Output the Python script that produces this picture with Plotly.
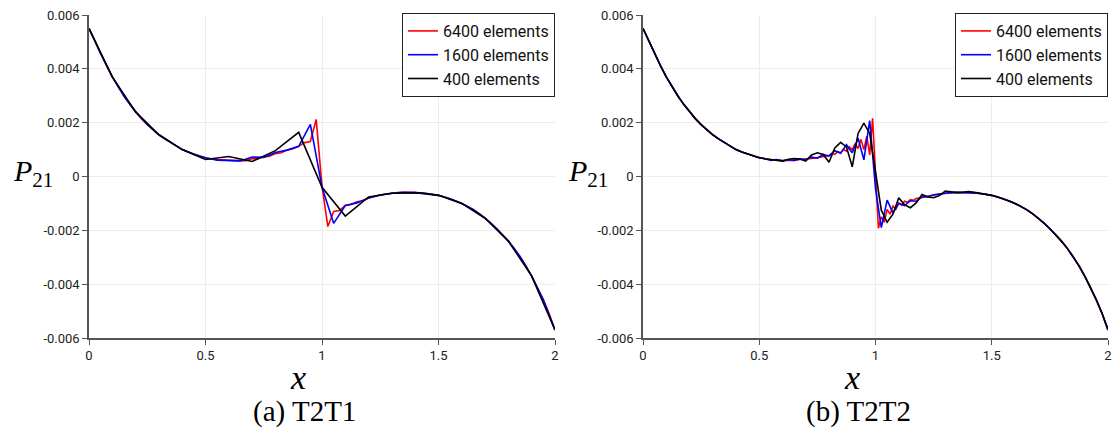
import plotly.graph_objects as go

# ---------------- data: T2T1 (left panel) ----------------
# 400 elements, nodes every 0.1
T2T1_400_X0, T2T1_400_DX = 0.0, 0.1
T2T1_400_Y = [0.00550, 0.00370, 0.00240, 0.00155, 0.00100, 0.00063, 0.00074, 0.00056, 0.00096, 0.00164,
              -0.00040, -0.00147, -0.00076, -0.00062, -0.00060, -0.00070, -0.00100, -0.00155, -0.00240,
              -0.00370, -0.00570]

# 1600 elements, nodes every 0.05
T2T1_1600_X0, T2T1_1600_DX = 0.0, 0.05
T2T1_1600_Y = [0.00550, 0.00456, 0.00370, 0.00299, 0.00240, 0.00193, 0.00155, 0.00126, 0.00100, 0.00083,
               0.00070, 0.00061, 0.00059, 0.00058, 0.00072, 0.00071, 0.00089, 0.00098, 0.00112, 0.00194,
               -0.00040, -0.00174, -0.00108, -0.00098, -0.00080, -0.00069, -0.00062, -0.00059, -0.00060,
               -0.00063, -0.00070, -0.00083, -0.00100, -0.00123, -0.00155, -0.00194, -0.00240, -0.00297,
               -0.00370, -0.00458, -0.00570]

# 6400 elements, nodes every 0.025
T2T1_6400_X0, T2T1_6400_DX = 0.0, 0.025
T2T1_6400_Y = [0.00550, 0.00502, 0.00456, 0.00412, 0.00370, 0.00333, 0.00299, 0.00268, 0.00240, 0.00215,
               0.00193, 0.00173, 0.00155, 0.00140, 0.00126, 0.00112, 0.00100, 0.00091, 0.00083, 0.00076,
               0.00070, 0.00065, 0.00063, 0.00061, 0.00061, 0.00059, 0.00060, 0.00059, 0.00066, 0.00066,
               0.00073, 0.00075, 0.00085, 0.00088, 0.00098, 0.00103, 0.00112, 0.00126, 0.00130, 0.00212,
               -0.00035, -0.00186, -0.00130, -0.00126, -0.00108, -0.00104, -0.00094, -0.00090, -0.00080,
               -0.00074, -0.00069, -0.00065, -0.00062, -0.00060, -0.00059, -0.00059,
               -0.00060, -0.00061, -0.00063, -0.00066, -0.00070, -0.00076, -0.00083, -0.00091, -0.00100,
               -0.00111, -0.00123, -0.00138, -0.00155, -0.00173, -0.00194, -0.00216, -0.00240, -0.00267,
               -0.00297, -0.00331, -0.00370, -0.00412, -0.00458, -0.00510, -0.00570]

# ---------------- data: T2T2 (right panel) ----------------
T2T2_400_X0, T2T2_400_DX = 0.0, 0.025
T2T2_400_Y = [0.00550, 0.00502, 0.00456, 0.00412, 0.00370, 0.00333, 0.00299, 0.00268, 0.00240, 0.00215,
              0.00193, 0.00173, 0.00155, 0.00140, 0.00126, 0.00112, 0.00100, 0.00091, 0.00083, 0.00076,
              0.00070, 0.00066, 0.00063, 0.00060, 0.00057, 0.00064, 0.00067, 0.00065, 0.00057, 0.00080,
              0.00088, 0.00082, 0.00053, 0.00106, 0.00127, 0.00110, 0.00036, 0.00160, 0.00198, 0.00160,
              0.00025, -0.00125, -0.00170, -0.00140, -0.00079, -0.00105, -0.00116, -0.00098, -0.00067,
              -0.00076, -0.00079, -0.00071, -0.00054, -0.00058, -0.00060, -0.00059,
              -0.00056, -0.00059, -0.00062, -0.00066, -0.00070, -0.00076, -0.00083, -0.00091, -0.00100,
              -0.00111, -0.00123, -0.00138, -0.00155, -0.00173, -0.00194, -0.00216, -0.00240, -0.00267,
              -0.00297, -0.00331, -0.00370, -0.00412, -0.00458, -0.00510, -0.00570]

T2T2_1600_X0, T2T2_1600_DX = 0.0, 0.025
T2T2_1600_Y = [0.00550, 0.00502, 0.00456, 0.00412, 0.00370, 0.00333, 0.00299, 0.00268, 0.00240, 0.00215,
               0.00193, 0.00173, 0.00155, 0.00140, 0.00126, 0.00112, 0.00100, 0.00091, 0.00083, 0.00076,
               0.00070, 0.00066, 0.00060, 0.00063, 0.00058, 0.00062, 0.00060, 0.00066, 0.00063, 0.00072,
               0.00068, 0.00082, 0.00076, 0.00096, 0.00086, 0.00118, 0.00088, 0.00142, 0.00062, 0.00208,
               -0.00045, -0.00190, -0.00088, -0.00135, -0.00100, -0.00108, -0.00090, -0.00092, -0.00076,
               -0.00074, -0.00068, -0.00065, -0.00062, -0.00060, -0.00059, -0.00059,
               -0.00060, -0.00061, -0.00063, -0.00066, -0.00070, -0.00076, -0.00083, -0.00091, -0.00100,
               -0.00111, -0.00123, -0.00138, -0.00155, -0.00173, -0.00194, -0.00216, -0.00240, -0.00267,
               -0.00297, -0.00331, -0.00370, -0.00412, -0.00458, -0.00510, -0.00570]

T2T2_6400_X = [0.0, 0.025, 0.05, 0.075, 0.1, 0.125, 0.15, 0.175, 0.2, 0.225, 0.25, 0.275, 0.3, 0.325, 0.35,
               0.375, 0.4, 0.425, 0.45, 0.475, 0.5, 0.525, 0.55, 0.575, 0.6, 0.625, 0.65, 0.675, 0.7, 0.725,
               0.75, 0.775, 0.8,
               0.8125, 0.825, 0.8375, 0.85, 0.8625, 0.875, 0.8875, 0.9, 0.9125, 0.925, 0.9375, 0.95, 0.9625,
               0.975, 0.9875, 1.0, 1.0125, 1.025, 1.0375, 1.05, 1.0625, 1.075, 1.0875, 1.1, 1.1125, 1.125,
               1.1375, 1.15, 1.1625, 1.175, 1.1875,
               1.2, 1.225, 1.25, 1.275, 1.3, 1.325, 1.35, 1.375, 1.4, 1.425, 1.45, 1.475, 1.5, 1.525, 1.55,
               1.575, 1.6, 1.625, 1.65, 1.675, 1.7, 1.725, 1.75, 1.775, 1.8, 1.825, 1.85, 1.875, 1.9, 1.925,
               1.95, 1.975, 2.0]
T2T2_6400_Y = [0.00550, 0.00502, 0.00456, 0.00412, 0.00370, 0.00333, 0.00299, 0.00268, 0.00240, 0.00215,
               0.00193, 0.00173, 0.00155, 0.00140, 0.00126, 0.00112, 0.00100, 0.00091, 0.00083, 0.00076,
               0.00070, 0.00065, 0.00062, 0.00062, 0.00059, 0.00061, 0.00060, 0.00063, 0.00064, 0.00067,
               0.00070, 0.00075, 0.00078,
               0.00086, 0.00082, 0.00092, 0.00088, 0.00100, 0.00094, 0.00110, 0.00100, 0.00122, 0.00104,
               0.00138, 0.00100, 0.00150, 0.00080, 0.00216, 0.00020, -0.00192, -0.00150, -0.00170, -0.00122,
               -0.00140, -0.00110, -0.00122, -0.00098, -0.00106, -0.00092, -0.00096, -0.00086, -0.00088,
               -0.00082, -0.00081,
               -0.00078, -0.00074, -0.00069, -0.00065, -0.00062, -0.00060, -0.00059, -0.00059,
               -0.00060, -0.00061, -0.00063, -0.00066, -0.00070, -0.00076, -0.00083, -0.00091, -0.00100,
               -0.00111, -0.00123, -0.00138, -0.00155, -0.00173, -0.00194, -0.00216, -0.00240, -0.00267,
               -0.00297, -0.00331, -0.00370, -0.00412, -0.00458, -0.00510, -0.00570]

SERIES_NAMES = ["6400 elements", "1600 elements", "400 elements"]
SERIES_COLORS = ["#ff0000", "#0000ff", "#000000"]
X_TICKS = [0, 0.5, 1, 1.5, 2]
X_TICKTEXT = ["0", "0.5", "1", "1.5", "2"]
Y_TICKS = [-0.006, -0.004, -0.002, 0, 0.002, 0.004, 0.006]
Y_TICKTEXT = ["-0.006", "-0.004", "-0.002", "0", "0.002", "0.004", "0.006"]
CAPTIONS = ["(a) T2T1", "(b) T2T2"]

W, H = 1116, 438
fig = go.Figure()

LW = 1.6
# left panel
fig.add_trace(go.Scatter(x0=T2T1_6400_X0, dx=T2T1_6400_DX, y=T2T1_6400_Y, mode="lines", name=SERIES_NAMES[0],
                         line=dict(color=SERIES_COLORS[0], width=LW), xaxis="x", yaxis="y", legend="legend"))
fig.add_trace(go.Scatter(x0=T2T1_1600_X0, dx=T2T1_1600_DX, y=T2T1_1600_Y, mode="lines", name=SERIES_NAMES[1],
                         line=dict(color=SERIES_COLORS[1], width=LW), xaxis="x", yaxis="y", legend="legend"))
fig.add_trace(go.Scatter(x0=T2T1_400_X0, dx=T2T1_400_DX, y=T2T1_400_Y, mode="lines", name=SERIES_NAMES[2],
                         line=dict(color=SERIES_COLORS[2], width=LW), xaxis="x", yaxis="y", legend="legend"))
# right panel
fig.add_trace(go.Scatter(x=T2T2_6400_X, y=T2T2_6400_Y, mode="lines", name=SERIES_NAMES[0],
                         line=dict(color=SERIES_COLORS[0], width=LW), xaxis="x2", yaxis="y2", legend="legend2"))
fig.add_trace(go.Scatter(x0=T2T2_1600_X0, dx=T2T2_1600_DX, y=T2T2_1600_Y, mode="lines", name=SERIES_NAMES[1],
                         line=dict(color=SERIES_COLORS[1], width=LW), xaxis="x2", yaxis="y2", legend="legend2"))
fig.add_trace(go.Scatter(x0=T2T2_400_X0, dx=T2T2_400_DX, y=T2T2_400_Y, mode="lines", name=SERIES_NAMES[2],
                         line=dict(color=SERIES_COLORS[2], width=LW), xaxis="x2", yaxis="y2", legend="legend2"))

tickfont = dict(family="Roboto", size=13, color="#222")
axis_common = dict(showgrid=True, gridcolor="#ececec", gridwidth=1, showline=True, linecolor="#555",
                   linewidth=1.5, ticks="outside", ticklen=5, tickcolor="#555", tickwidth=1,
                   zeroline=False, tickfont=tickfont, automargin=False, mirror=False)

left_dom = [89 / W, 555 / W]
right_dom = [643 / W, 1108 / W]
y_dom = [(H - 338) / H, (H - 15) / H]

legend_common = dict(xanchor="right", yanchor="top", bordercolor="#222", borderwidth=1, bgcolor="white",
                     font=dict(family="Roboto", size=16, color="#111"),
                     tracegroupgap=0, itemwidth=30)

fig.update_layout(
    width=W, height=H, template="none", paper_bgcolor="white", plot_bgcolor="white",
    margin=dict(l=0, r=0, t=0, b=0),
    showlegend=True,
    xaxis=dict(domain=left_dom, range=[0, 2], tickvals=X_TICKS, ticktext=X_TICKTEXT, anchor="y", **axis_common),
    yaxis=dict(domain=y_dom, range=[-0.006, 0.006], tickvals=Y_TICKS, ticktext=Y_TICKTEXT, anchor="x", **axis_common),
    xaxis2=dict(domain=right_dom, range=[0, 2], tickvals=X_TICKS, ticktext=X_TICKTEXT, anchor="y2", **axis_common),
    yaxis2=dict(domain=y_dom, range=[-0.006, 0.006], tickvals=Y_TICKS, ticktext=Y_TICKTEXT, anchor="x2", **axis_common),
    legend=dict(x=555 / W, y=(H - 13) / H, **legend_common),
    legend2=dict(x=1108 / W, y=(H - 13) / H, **legend_common),
)

serif = '"Liberation Serif"'
for px_p, px_x, px_c, cap in [(11, 298, 304, CAPTIONS[0]), (566, 852, 858, CAPTIONS[1])]:
    fig.add_annotation(text="<i>P</i><sub>21</sub>", xref="paper", yref="paper", x=px_p / W, y=(H - 173) / H,
                       xanchor="left", yanchor="middle", showarrow=False, font=dict(family=serif, size=30, color="black"))
    fig.add_annotation(text="<i>x</i>", xref="paper", yref="paper", x=px_x / W, y=(H - 377) / H,
                       xanchor="center", yanchor="middle", showarrow=False, font=dict(family=serif, size=34, color="black"))
    fig.add_annotation(text=cap, xref="paper", yref="paper", x=px_c / W, y=(H - 411) / H,
                       xanchor="center", yanchor="middle", showarrow=False, font=dict(family=serif, size=29, color="black"))

fig.write_html("out.html", config={"displayModeBar": False},
               post_script="document.body.style.margin='0';document.body.style.padding='0';")
